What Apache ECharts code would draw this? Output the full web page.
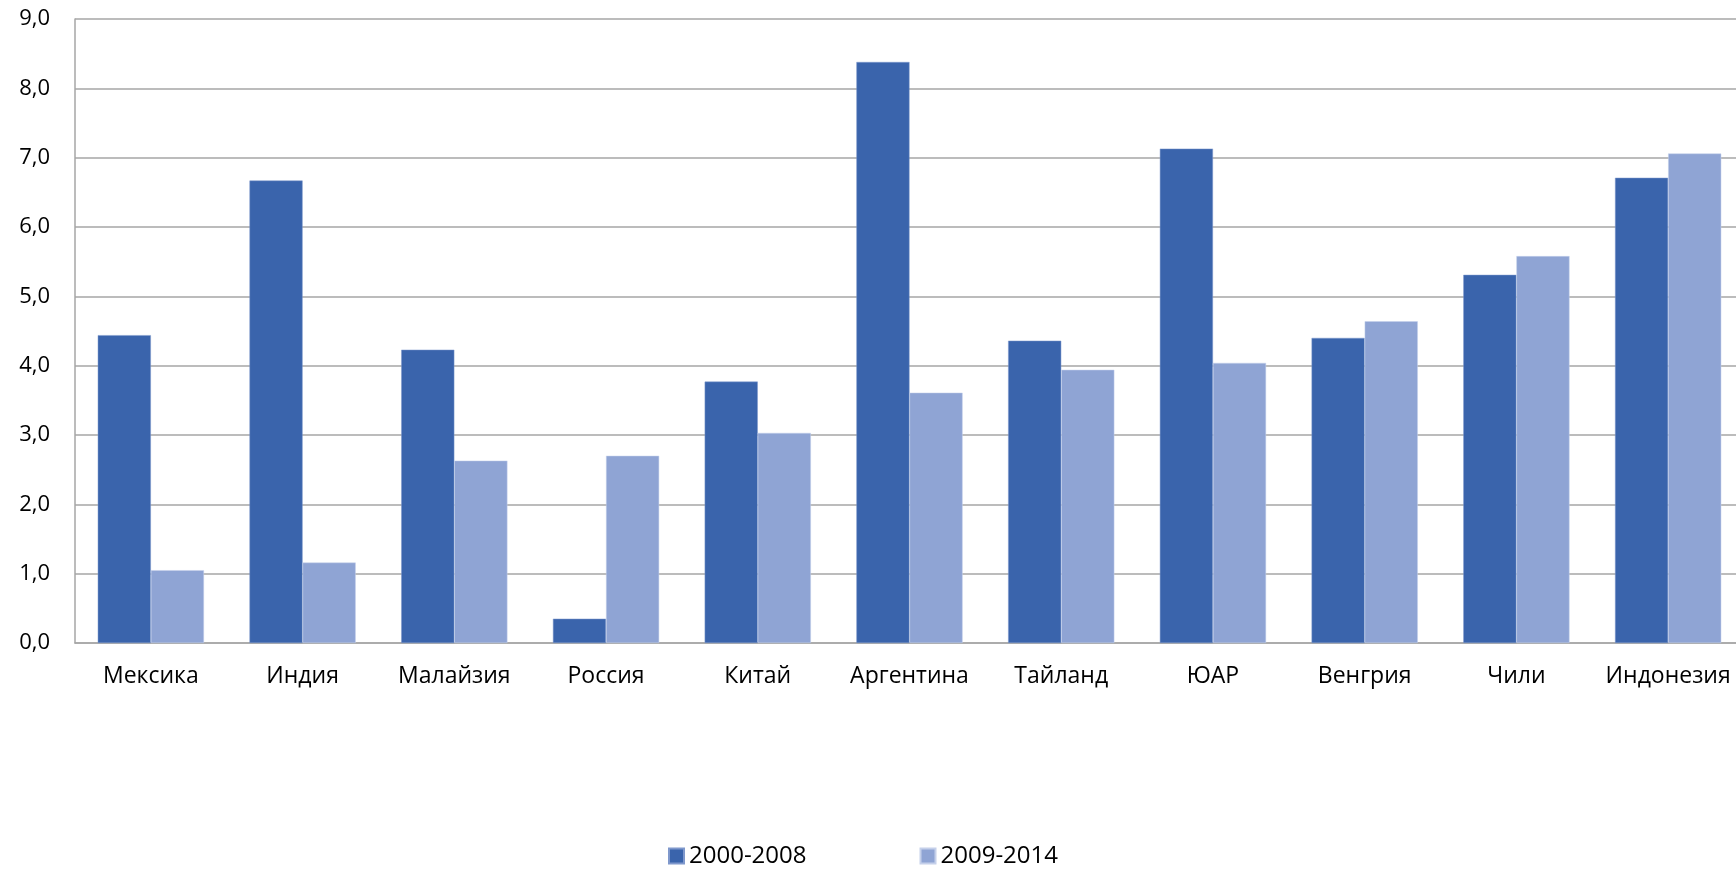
<!DOCTYPE html>
<html>
<head>
<meta charset="utf-8">
<script src="https://cdn.jsdelivr.net/npm/echarts@6/dist/echarts.min.js"></script>
<style>
  html, body { margin: 0; padding: 0; background: #fff; }
  #chart { width: 1736px; height: 874px; }
</style>
</head>
<body>
<div id="chart"></div>
<script>
const categories = ['Мексика', 'Индия', 'Малайзия', 'Россия', 'Китай', 'Аргентина', 'Тайланд', 'ЮАР', 'Венгрия', 'Чили', 'Индонезия']
const seriesNames = ['2000-2008', '2009-2014']
const values2000 = [4.44, 6.67, 4.23, 0.35, 3.77, 8.38, 4.36, 7.13, 4.40, 5.31, 6.71]
const values2009 = [1.05, 1.16, 2.63, 2.70, 3.03, 3.61, 3.94, 4.04, 4.64, 5.58, 7.06]

const font = '"Open Sans", Lato, sans-serif'
const chart = echarts.init(document.getElementById('chart'))

chart.setOption({
  animation: false,
  textStyle: { fontFamily: font },
  // the plot runs a little past the right edge, as in the original
  grid: { left: 75, width: 1669, top: 19, height: 624, containLabel: false, outerBoundsMode: 'none' },
  legend: {
    data: seriesNames,
    bottom: 1,
    left: 663,
    itemWidth: 15,
    itemHeight: 15,
    itemGap: 113,
    icon: 'rect',
    textStyle: { color: '#000', fontSize: 24, fontFamily: font }
  },
  xAxis: {
    type: 'category',
    data: categories,
    axisLine: { lineStyle: { color: '#A6A6A6', width: 1.5 } },
    axisTick: { show: false },
    axisLabel: { color: '#000', fontSize: 23, margin: 22, fontFamily: font, interval: 0 }
  },
  yAxis: {
    type: 'value',
    min: 0,
    max: 9,
    interval: 1,
    axisLine: { show: true, lineStyle: { color: '#A6A6A6', width: 1.5 } },
    axisTick: { show: false },
    splitLine: { lineStyle: { color: '#A6A6A6', width: 1.5 } },
    axisLabel: {
      color: '#000', fontSize: 22, margin: 25, fontFamily: font,
      formatter: v => v.toFixed(1).replace('.', ',')
    }
  },
  series: [
    {
      name: seriesNames[0],
      type: 'bar',
      data: values2000,
      barGap: '0%',
      barCategoryGap: '30%',
      itemStyle: { color: '#3A64AC', borderColor: '#7F98CC', borderWidth: 0.5 }
    },
    {
      name: seriesNames[1],
      type: 'bar',
      data: values2009,
      itemStyle: { color: '#8FA4D4', borderColor: '#C5D0EA', borderWidth: 0.5 }
    }
  ]
})
</script>
</body>
</html>
